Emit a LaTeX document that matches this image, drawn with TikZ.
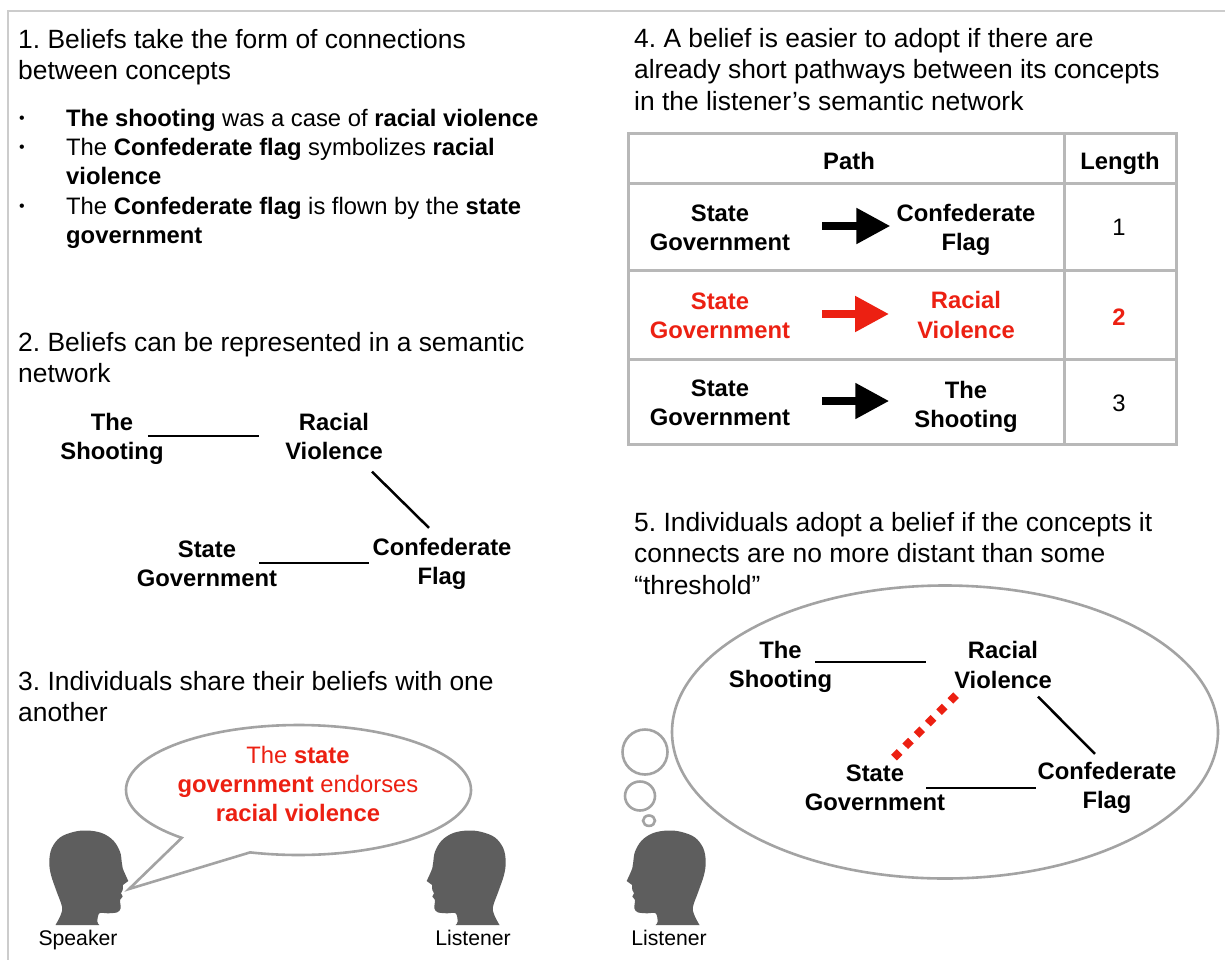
\documentclass[tikz,border=0pt]{standalone}
\usepackage{fontspec}
\setmainfont{Liberation Sans}
\usetikzlibrary{arrows.meta}
\definecolor{redc}{HTML}{EC2012}
\definecolor{bubc}{HTML}{A3A3A3}
\definecolor{tabc}{HTML}{B8B8B8}
\definecolor{framec}{HTML}{CCCCCC}
\definecolor{headc}{HTML}{5E5E5E}
\newcommand{\headshape}{\fill[headc] (55.5,925) -- plot[smooth,tension=.6] coordinates {(55.5,925) (60.7,915) (62,906.7) (56.7,891.7) (51,875) (49.3,861.7) (51.7,848.3) (60,837.5) (73.3,832) (86.7,830.5) (101.7,833) (113.3,840.5) (120,851.7) (121.7,861.7) (122.7,868.3) (128.3,881)} -- (122.9,885) -- plot[smooth,tension=.5] coordinates {(122.9,885) (122.7,890) (121,893.3) (122.7,896.7) (120,900) (120.7,908.3) (117.3,912.3) (108.3,913.3) (99.3,913.3) (97.3,921.7) (99.3,925)} -- cycle;}
\tikzset{
  heading/.style={inner sep=0pt,anchor=north west,align=left,font=\fontsize{26.4}{31.4}\selectfont},
  item/.style={inner sep=0pt,anchor=north west,align=left,font=\fontsize{23.8}{29.3}\selectfont},
  dotitem/.style={inner sep=0pt,font=\fontsize{16}{20}\selectfont},
  concept/.style={inner sep=0pt,align=center,font=\fontsize{23.8}{29.5}\selectfont\bfseries},
  cell/.style={inner sep=0pt,align=center,font=\fontsize{23.8}{29.5}\selectfont},
  small/.style={inner sep=0pt,font=\fontsize{21.2}{25}\selectfont},
  link/.style={draw=black,line width=2.5pt},
  redlink/.style={draw=redc,line width=8pt,dash pattern=on 8pt off 8pt},
  bub/.style={draw=bubc,line width=2.6pt,fill=white},
  tabline/.style={draw=tabc,line width=3pt},
  blockarrow/.style={line width=8pt,-{Triangle[length=34pt,width=34pt]}}
}
\begin{document}
\frenchspacing
\begin{tikzpicture}[x=1pt,y=-1pt]
\useasboundingbox (0,0) rectangle (1225,960);
\fill[white] (0,0) rectangle (1225,960);
\draw[framec,line width=2pt] (8,960) -- (8,11) -- (1225,11);

% Panel 1
\node[heading] (h1) at (18,29) {1. Beliefs take the form of connections\\between concepts};
\node[dotitem] (b1) at (22,120) {•};
\node[dotitem] (b2) at (22,149) {•};
\node[dotitem] (b3) at (22,208) {•};
\node[item] (i1) at (66,109) {\textbf{The shooting} was a case of \textbf{racial violence}};
\node[item] (i2) at (66,138) {The \textbf{Confederate flag} symbolizes \textbf{racial}\\\textbf{violence}};
\node[item] (i3) at (66,197) {The \textbf{Confederate flag} is flown by the \textbf{state}\\\textbf{government}};

% Panel 2
\node[heading] (h2) at (18,332) {2. Beliefs can be represented in a semantic\\network};
\node[concept] (ashoot) at (112,439) {The\\Shooting};
\node[concept] (aracial) at (334,436.5) {Racial\\Violence};
\node[concept] (astate) at (207,564) {State\\Government};
\node[concept] (aflag) at (442,564) {Confederate\\Flag};
\draw[link] ([xshift=-16,yshift=3]ashoot.east) -- ([xshift=-26,yshift=.5]aracial.west);
\draw[link] ([xshift=38,yshift=-11.5]aracial.south) -- ([xshift=-13,yshift=10]aflag.north);
\draw[link] ([xshift=-18,yshift=1]astate.east) -- ([xshift=-3,yshift=1]aflag.west);

% Panel 3
\node[heading] (h3) at (18,671) {3. Individuals share their beliefs with one\\another};
\draw[bub] plot[domain=132.6:466.3,samples=140] ({298.5+172.5*cos(\x)},{790+65*sin(\x)}) -- (129,889) -- cycle;
\node[concept,text=redc,font=\fontsize{23.8}{29.3}\selectfont] (say) at (298,784) {The \textbf{state}\\\textbf{government} endorses\\\textbf{racial violence}};
\headshape
\begin{scope}[shift={(555,0)},xscale=-1]\headshape\end{scope}
\begin{scope}[shift={(755,0)},xscale=-1]\headshape\end{scope}
\node[small] (speaker) at (78,940) {Speaker};
\node[small] (listener) at (473,938) {Listener};
\node[small] (listenerb) at (669,938) {Listener};

% Panel 4
\node[heading] (h4) at (634,28) {4. A belief is easier to adopt if there are\\already short pathways between its concepts\\in the listener’s semantic network};
\draw[tabline] (628,134) rectangle (1176,444);
\draw[tabline] (1064,134) -- (1064,444);
\draw[tabline] (628,184) -- (1176,184);
\draw[tabline] (628,270) -- (1176,270);
\draw[tabline] (628,359) -- (1176,359);
\node[concept] (tpath) at (849,161) {Path};
\node[concept] (tlen) at (1120,163) {Length};
\node[concept] (s1) at (720,228) {State\\Government};
\node[concept] (e1) at (966,230) {Confederate\\Flag};
\node[cell] (n1) at (1119,227) {1};
\node[concept,text=redc] (s2) at (720,316) {State\\Government};
\node[concept,text=redc] (e2) at (966,315) {Racial\\Violence};
\node[concept,text=redc] (n2) at (1119,317) {2};
\node[concept] (s3) at (720,403) {State\\Government};
\node[concept] (e3) at (966,407) {The\\Shooting};
\node[cell] (n3) at (1119,403) {3};
\draw[blockarrow,black] ([xshift=32,yshift=2]s1.east) -- ([xshift=-6,yshift=4]e1.west);
\draw[blockarrow,redc] ([xshift=32,yshift=2]s2.east) -- ([xshift=-28,yshift=1]e2.west);
\draw[blockarrow,black] ([xshift=32,yshift=2]s3.east) -- ([xshift=-25,yshift=6]e3.west);

% Panel 5
\node[heading] (h5) at (634,512) {5. Individuals adopt a belief if the concepts it\\connects are no more distant than some\\“threshold”};
\draw[bub] (945,732) ellipse [x radius=273pt,y radius=146.5pt];
\draw[bub] (645,752) ellipse [x radius=22.5pt,y radius=22.5pt];
\draw[bub] (640,796) ellipse [x radius=15pt,y radius=14.5pt];
\draw[bub] (649,820.7) ellipse [x radius=6pt,y radius=5.2pt];
\node[concept] (bshoot) at (780.5,667) {The\\Shooting};
\node[concept] (bracial) at (1003,665) {Racial\\Violence};
\node[concept] (bstate) at (875,788) {State\\Government};
\node[concept] (bflag) at (1107,788) {Confederate\\Flag};
\draw[link] ([xshift=-17,yshift=5]bshoot.east) -- ([xshift=-28,yshift=3]bracial.west);
\draw[link] ([xshift=35,yshift=-8]bracial.south) -- ([xshift=-12,yshift=8]bflag.north);
\draw[link] ([xshift=-19]bstate.east) -- ([xshift=-1.5]bflag.west);
\draw[redlink] ([xshift=-47,yshift=-6.5]bracial.south) -- ([xshift=19,yshift=7]bstate.north);
\end{tikzpicture}
\end{document}
